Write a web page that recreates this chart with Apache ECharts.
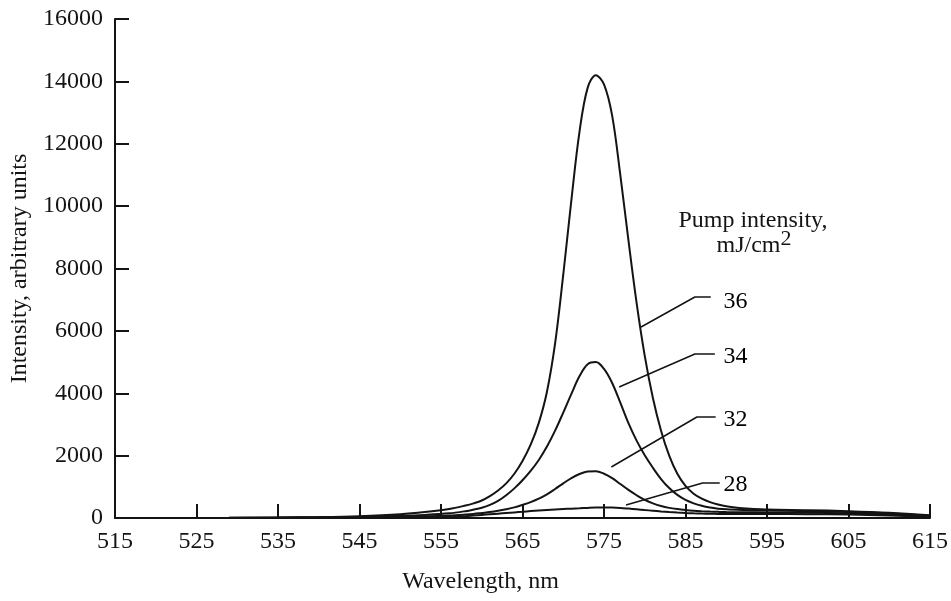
<!DOCTYPE html>
<html>
<head>
<meta charset="utf-8">
<script src="https://cdn.jsdelivr.net/npm/echarts@6/dist/echarts.min.js"></script>
<style>
html,body{margin:0;padding:0;background:#fff;}
#chart{width:951px;height:601px;}
</style>
</head>
<body>
<div id="chart"></div>
<script>
// ---- data ----
var wavelengths = [524, 529, 535, 540, 545, 550, 553, 556,
  558, 559, 560, 561, 562, 563, 564, 565, 566, 567, 568, 569, 570, 571, 572, 573, 574,
  575, 576, 577, 578, 579, 580, 581, 582, 583, 584, 585, 586, 587, 588, 589, 590,
  592, 595, 600, 605, 610, 615];
var pump36 = [null, 5, 15, 30, 60, 120, 190, 290,
  400, 470, 560, 700, 880, 1110, 1420, 1830, 2350, 3050, 4050, 5600, 7800, 10200, 12400, 13800, 14200,
  13900, 12900, 11000, 8900, 6900, 5200, 3850, 2800, 2000, 1420, 1030, 780, 620, 510, 430, 375,
  310, 270, 250, 220, 170, 90];
var pump34 = [null, 5, 10, 20, 40, 70, 100, 150,
  220, 270, 330, 420, 550, 730, 950, 1210, 1510, 1860, 2290, 2800, 3380, 3980, 4550, 4930, 5000,
  4780, 4330, 3700, 3040, 2480, 2010, 1610, 1250, 960, 740, 580, 470, 390, 335, 300, 280,
  260, 240, 220, 190, 150, 70];
var pump32 = [0, 3, 8, 15, 25, 40, 55, 80,
  110, 130, 160, 190, 230, 280, 340, 420, 510, 620, 760, 930, 1110, 1280, 1410, 1490, 1500,
  1420, 1280, 1090, 900, 730, 580, 470, 385, 325, 285, 255, 232, 217, 206, 197, 190,
  185, 180, 170, 150, 110, 50];
var pump28 = [0, 2, 5, 10, 15, 22, 28, 40,
  60, 80, 100, 120, 140, 160, 180, 200, 222, 243, 260, 274, 287, 299, 311, 323, 333,
  337, 334, 322, 302, 280, 256, 233, 211, 191, 174, 160, 149, 141, 136, 132, 130,
  130, 130, 120, 110, 80, 30];
var seriesNames = ['36', '34', '32', '28'];
var xTickMin = 515, xTickMax = 615, xTickStep = 10;
var yTickMin = 0, yTickMax = 16000, yTickStep = 2000;
// annotation anchors in data units: [wavelength, intensity]
var leader36 = [[579.55, 6124], [586.15, 7086], [588.1, 7086]];
var leader34 = [[576.86, 4200], [586.15, 5258], [588.6, 5258]];
var leader32 = [[575.9, 1635], [586.4, 3238], [588.7, 3238]];
var leader28 = [[577.7, 417], [587.1, 1122], [589.2, 1122]];
var labelAnchors = [[589.6, 6926], [589.6, 5162], [589.6, 3142], [589.6, 1058]];

var INK = '#141414';
var FONT = '"Liberation Serif", "Times New Roman", serif';
var FS = 24;

function pairs(vals) {
  var out = [];
  for (var i = 0; i < wavelengths.length; i++) {
    if (vals[i] != null) out.push([wavelengths[i], vals[i]]);
  }
  return out;
}
function curve(name, vals) {
  return {
    name: name, type: 'line', data: pairs(vals), smooth: 0.35, symbol: 'none',
    lineStyle: { color: INK, width: 2 }, z: 3, silent: true
  };
}
function leader(pts) {
  return {
    type: 'line', data: pts, symbol: 'none', smooth: false,
    lineStyle: { color: INK, width: 1.5 }, z: 4, silent: true
  };
}

var chart = echarts.init(document.getElementById('chart'), null, { renderer: 'canvas' });
var option = {
  backgroundColor: '#ffffff',
  animation: false,
  textStyle: { fontFamily: FONT, color: INK },
  grid: { left: 115, right: 18, top: 19, bottom: 83, containLabel: false },
  xAxis: {
    type: 'value', min: xTickMin, max: xTickMax, interval: xTickStep,
    name: 'Wavelength, nm', nameLocation: 'middle', nameGap: 52,
    nameTextStyle: { fontFamily: FONT, fontSize: FS, color: INK, padding: [0, 84, 0, 0] },
    axisLine: { show: true, lineStyle: { color: INK, width: 2 } },
    axisTick: { show: true, inside: true, length: 14, lineStyle: { color: INK, width: 2 } },
    axisLabel: { fontFamily: FONT, fontSize: FS, color: INK, margin: 12 },
    splitLine: { show: false }
  },
  yAxis: {
    type: 'value', min: yTickMin, max: yTickMax, interval: yTickStep,
    name: 'Intensity, arbitrary units', nameLocation: 'middle', nameGap: 82,
    nameTextStyle: { fontFamily: FONT, fontSize: FS, color: INK },
    axisLine: { show: true, lineStyle: { color: INK, width: 2 } },
    axisTick: { show: true, inside: true, length: 14, lineStyle: { color: INK, width: 2 } },
    axisLabel: { fontFamily: FONT, fontSize: FS, color: INK, margin: 12,
      formatter: function (v) { return String(v); } },
    splitLine: { show: false }
  },
  series: [
    curve('36', pump36), curve('34', pump34), curve('32', pump32), curve('28', pump28),
    leader(leader36), leader(leader34), leader(leader32), leader(leader28),
    {
      type: 'scatter', symbolSize: 1, silent: true,
      itemStyle: { color: 'rgba(0,0,0,0)' },
      data: labelAnchors.map(function (p, i) { return { value: p, name: seriesNames[i] }; }),
      label: {
        show: true, position: 'right', distance: 0,
        formatter: function (p) { return p.name; },
        fontFamily: FONT, fontSize: FS, color: '#000', opacity: 1
      }
    }
  ],
  graphic: [
    { type: 'text', x: 753, y: 221, style: { text: 'Pump intensity,', font: FS + 'px ' + FONT, fill: INK, align: 'center', verticalAlign: 'middle' } },
    { type: 'text', x: 754, y: 246, style: {
        text: '{a|mJ/cm}{s|2}', align: 'center', verticalAlign: 'middle', fill: INK,
        rich: {
          a: { fontFamily: FONT, fontSize: FS, lineHeight: 24, verticalAlign: 'bottom', fill: INK },
          s: { fontFamily: FONT, fontSize: 22, lineHeight: 22, padding: [0, 0, 8, 0], verticalAlign: 'bottom', fill: INK }
        }
    } }
  ]
};
chart.setOption(option);
</script>
</body>
</html>
